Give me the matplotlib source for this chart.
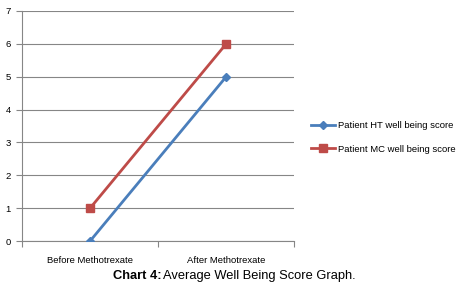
import matplotlib
matplotlib.use('Agg')
import matplotlib.pyplot as plt

# data
categories = ['Before Methotrexate', 'After Methotrexate']
ht_scores = [0, 5]
mc_scores = [1, 6]
series_names = ['Patient HT well being score', 'Patient MC well being score']

plt.rcParams['font.family'] = ['Liberation Sans', 'DejaVu Sans']

fig = plt.figure(figsize=(4.63, 2.94), dpi=100)
ax = fig.add_axes([0.0475, 0.180, 0.588, 0.7826])

x = [0.5, 1.5]
ax.plot(x, ht_scores, color='#4A7EBB', lw=2, marker='D', ms=4, label=series_names[0], zorder=3)
ax.plot(x, mc_scores, color='#BE4B48', lw=2, marker='s', ms=6, label=series_names[1], zorder=3)

ax.set_xlim(0, 2)
ax.set_ylim(0, 7)
ax.set_yticks(range(0, 8))
ax.set_xticks([0, 1, 2])
ax.set_xticklabels([])
ax.set_xticks(x, minor=True)
ax.set_xticklabels(categories, minor=True)
ax.tick_params(axis='x', which='minor', length=0, labelsize=6.8, pad=11)
ax.tick_params(axis='x', which='major', length=4, color='#868686', direction='out')
ax.tick_params(axis='y', length=4, color='#868686', labelsize=6.8, pad=4)
ax.grid(axis='y', color='#868686', lw=0.8)
ax.set_axisbelow(True)
for s in ['top', 'right']:
    ax.spines[s].set_visible(False)
for s in ['left', 'bottom']:
    ax.spines[s].set_color('#868686')

ax.legend(loc='center left', bbox_to_anchor=(1.03, 0.45), frameon=False, fontsize=6.8,
          handlelength=2.6, labelspacing=1.5, handletextpad=0.3)

fig.text(0.349, 0.062, 'Chart 4:', fontsize=9.3, fontweight='bold', ha='right', va='center')
fig.text(0.352, 0.062, 'Average Well Being Score Graph.', fontsize=9.3, ha='left', va='center')

fig.savefig('out.png', dpi=100)
